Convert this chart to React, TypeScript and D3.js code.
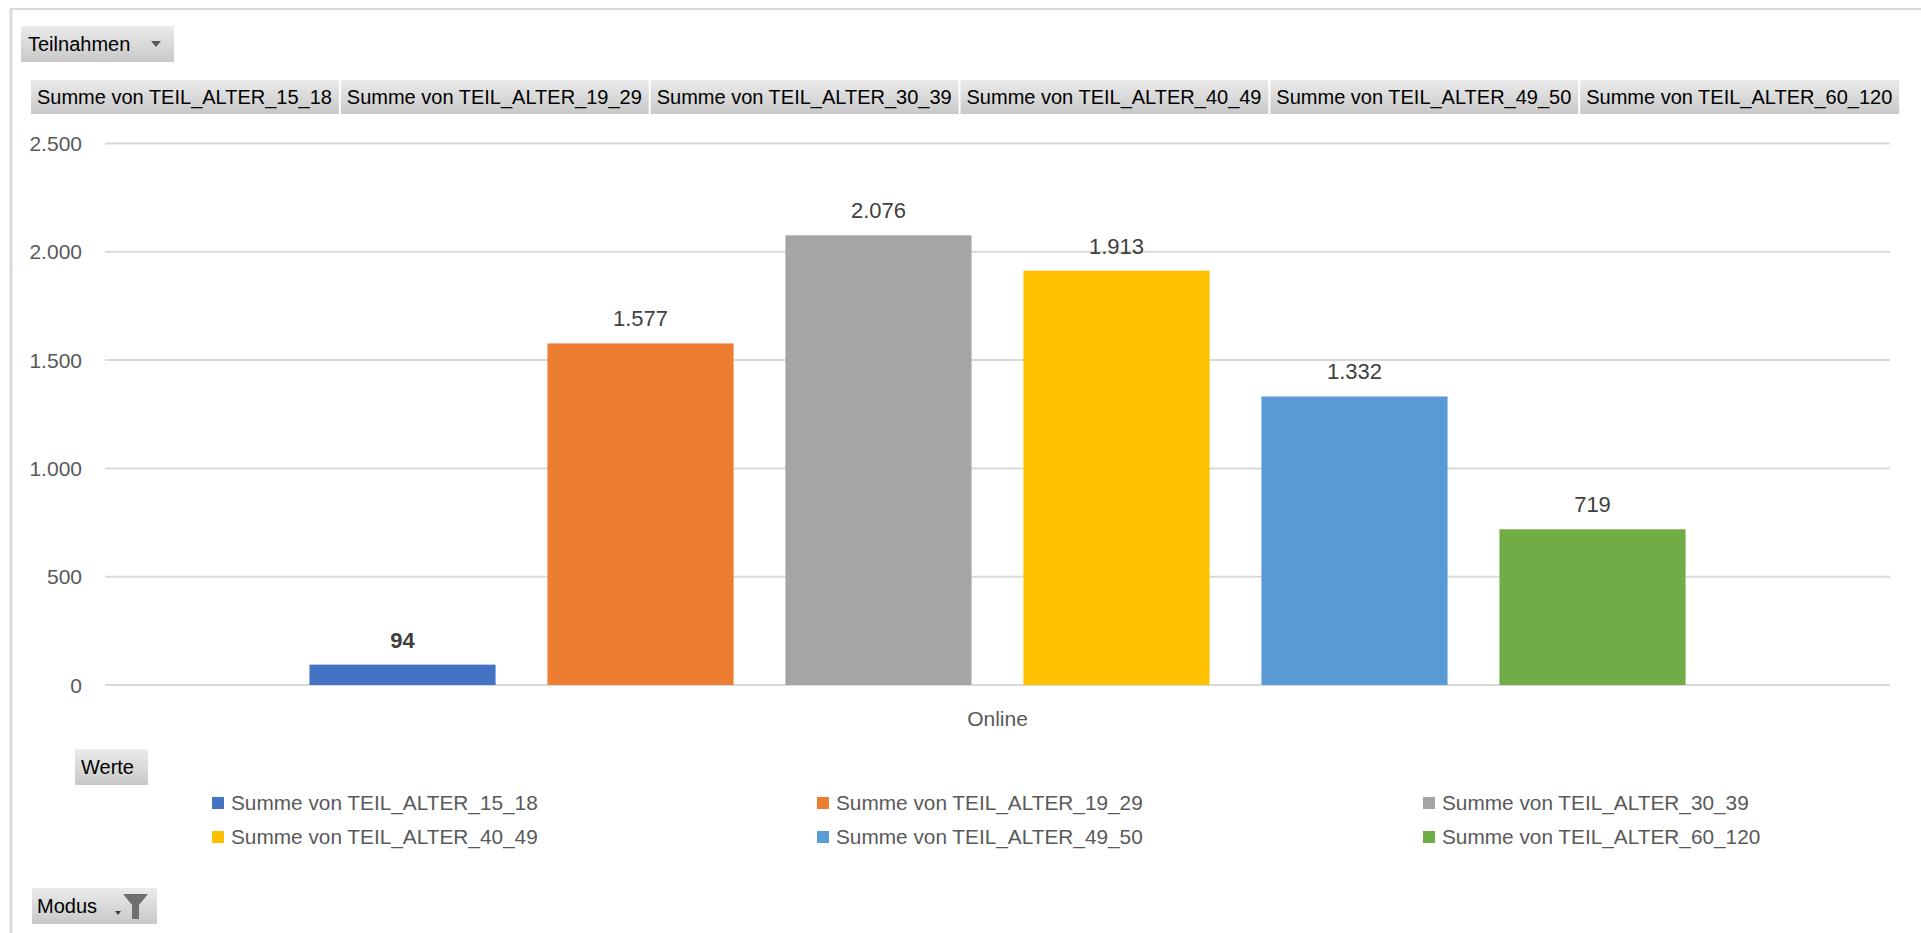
import React from "react";
import * as d3 from "d3";

const categories = ["Online"];
const seriesNames = [
  "Summe von TEIL_ALTER_15_18",
  "Summe von TEIL_ALTER_19_29",
  "Summe von TEIL_ALTER_30_39",
  "Summe von TEIL_ALTER_40_49",
  "Summe von TEIL_ALTER_49_50",
  "Summe von TEIL_ALTER_60_120",
];
const seriesValues = [94, 1577, 2076, 1913, 1332, 719];
const seriesColors = ["#4472C4", "#ED7D31", "#A5A5A5", "#FFC000", "#5B9BD5", "#70AD47"];
const yTicks = [0, 500, 1000, 1500, 2000, 2500];

const FONT = "'Liberation Sans', Arial, sans-serif";

function measure(text: string, size: number): number {
  if (typeof document === "undefined") return text.length * size * 0.55;
  const c = document.createElement("canvas");
  const ctx = c.getContext("2d");
  if (!ctx) return text.length * size * 0.55;
  ctx.font = `${size}px 'Liberation Sans', Arial, sans-serif`;
  return ctx.measureText(text).width;
}

const fmt = (v: number) => d3.format(",")(v).replace(/,/g, ".");

export default function App() {
  const W = 1921;
  const H = 933;
  const plotLeft = 105;
  const plotRight = 1890;
  const y = d3.scaleLinear().domain([0, 2500]).range([685, 143.5]);
  const x0 = d3.scaleBand<string>().domain(categories).range([plotLeft, plotRight]).paddingOuter(0.125).paddingInner(0);
  const x1 = d3
    .scaleBand<string>()
    .domain(seriesNames)
    .range([0, x0.bandwidth()])
    .paddingInner(0.218)
    .paddingOuter(0.109);

  // header cells
  const headerSize = 20;
  let hx = 31;
  const headerCells = seriesNames.map((name) => {
    const w = measure(name, headerSize) + 12.5;
    const cell = { name, x: hx, w };
    hx += w + 2;
    return cell;
  });

  const legendCols = [212, 817, 1423];
  const legendRows = [803, 837];

  return (
    <svg
      width={W}
      height={H}
      style={{ position: "fixed", left: 0, top: 0, background: "#fff" }}
      fontFamily={FONT}
    >
      <defs>
        <linearGradient id="btn" x1="0" y1="0" x2="0" y2="1">
          <stop offset="0" stopColor="#ebebeb" />
          <stop offset="1" stopColor="#c8c8c8" />
        </linearGradient>
      </defs>
      <rect x={0} y={0} width={W} height={H} fill="#fff" />
      {/* outer frame */}
      <line x1={11} y1={9} x2={W} y2={9} stroke="#d9d9d9" strokeWidth={2} />
      <line x1={11} y1={8} x2={11} y2={H} stroke="#d9d9d9" strokeWidth={3} />

      {/* Teilnahmen button */}
      <rect x={21} y={26} width={153} height={36} fill="url(#btn)" />
      <text x={28} y={51} fontSize={20} fill="#000">Teilnahmen</text>
      <path d="M151,41 L161,41 L156,47 Z" fill="#595959" />

      {/* header cells */}
      {headerCells.map((c) => (
        <g key={c.name}>
          <rect x={c.x} y={80} width={c.w} height={34} fill="url(#btn)" />
          <text x={c.x + 6} y={104} fontSize={headerSize} fill="#000">
            {c.name}
          </text>
        </g>
      ))}

      {/* gridlines and y ticks */}
      {yTicks.map((t) => (
        <g key={t}>
          <line x1={plotLeft} x2={plotRight} y1={y(t)} y2={y(t)} stroke="#d9d9d9" strokeWidth={2} />
          <text x={82} y={y(t)} dy="0.36em" textAnchor="end" fontSize={21} fill="#595959">
            {fmt(t)}
          </text>
        </g>
      ))}

      {/* bars */}
      {categories.map((cat) => (
        <g key={cat} transform={`translate(${x0(cat)},0)`}>
          {seriesNames.map((s, i) => {
            const v = seriesValues[i];
            const bx = x1(s) as number;
            return (
              <g key={s}>
                <rect x={bx} y={y(v)} width={x1.bandwidth()} height={y(0) - y(v)} fill={seriesColors[i]} />
                <text
                  x={bx + x1.bandwidth() / 2}
                  y={y(v) - 17}
                  textAnchor="middle"
                  fontSize={22}
                  fontWeight={i === 0 ? "bold" : "normal"}
                  fill="#404040"
                >
                  {fmt(v)}
                </text>
              </g>
            );
          })}
          <text
            x={x0.bandwidth() / 2}
            y={726}
            textAnchor="middle"
            fontSize={21}
            fill="#595959"
          >
            {cat}
          </text>
        </g>
      ))}

      {/* Werte button */}
      <rect x={75} y={749} width={73} height={36} fill="url(#btn)" />
      <text x={81} y={774} fontSize={20} fill="#000">Werte</text>

      {/* legend */}
      {seriesNames.map((s, i) => {
        const col = i % 3;
        const row = Math.floor(i / 3);
        const lx = legendCols[col];
        const ly = legendRows[row];
        return (
          <g key={s}>
            <rect x={lx} y={ly - 6} width={12} height={12} fill={seriesColors[i]} />
            <text x={lx + 19} y={ly} dy="0.36em" fontSize={20.8} fill="#595959">
              {s}
            </text>
          </g>
        );
      })}

      {/* Modus button */}
      <rect x={32} y={888} width={125} height={36} fill="url(#btn)" />
      <text x={37} y={913} fontSize={20} fill="#000">Modus</text>
      <path d="M115,911 L121,911 L118,915 Z" fill="#404040" />
      <path d="M123,894 L148,894 L139,905 L139,919 L132,919 L132,905 Z" fill="#707070" />
    </svg>
  );
}
